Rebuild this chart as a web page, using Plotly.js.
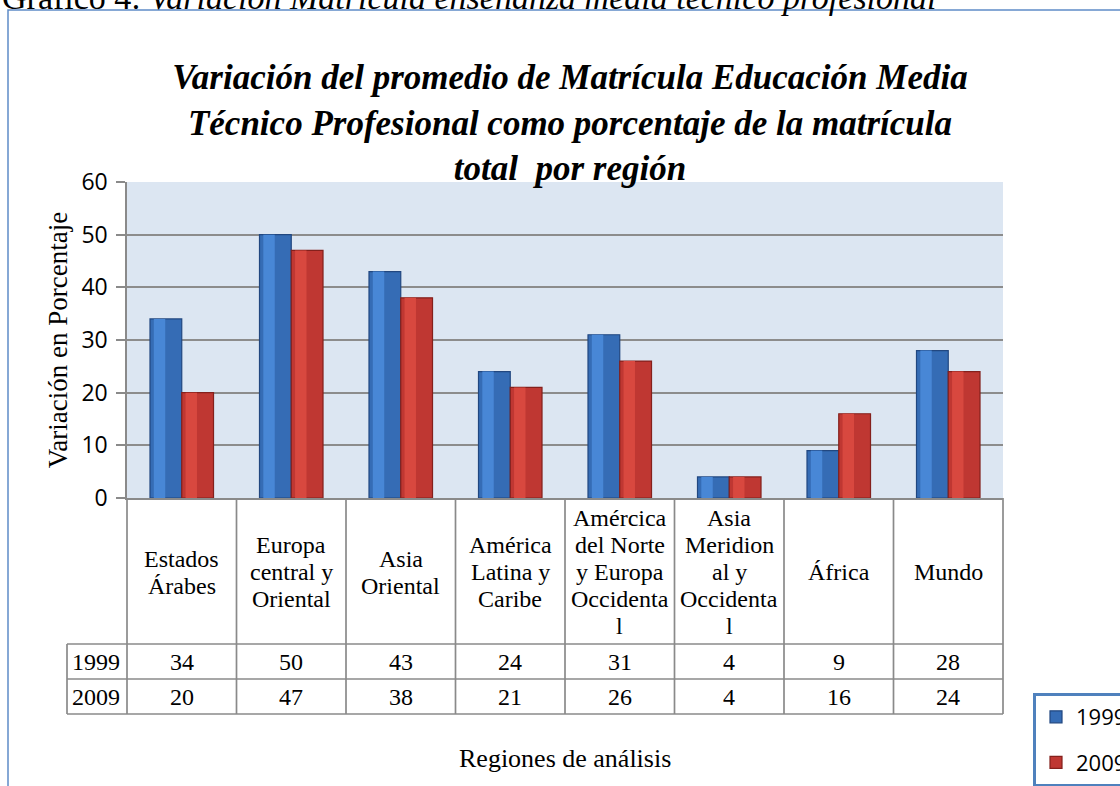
<!DOCTYPE html>
<html><head><meta charset="utf-8">
<script src="https://cdn.plot.ly/plotly-3.0.1.min.js"></script>
<style>html,body{margin:0;padding:0;background:#fff;overflow:hidden}#chart{width:1120px;height:786px}</style>
</head><body><div id="chart"></div>
<script>
// ---- data ----
const categories = ["Estados<br>Árabes", "Europa<br>central y<br>Oriental", "Asia<br>Oriental",
  "América<br>Latina y<br>Caribe", "Amércica<br>del Norte<br>y Europa<br>Occidenta<br>l",
  "Asia<br>Meridion<br>al y<br>Occidenta<br>l", "África", "Mundo"];
const seriesNames = ["1999", "2009"];
const values1999 = [34, 50, 43, 24, 31, 4, 9, 28];
const values2009 = [20, 47, 38, 21, 26, 4, 16, 24];
const yTickVals = [0, 10, 20, 30, 40, 50, 60];

// ---- layout helpers (pixel -> paper) ----
const L = 127, R = 1003, T = 182, B = 498;
const px = x => (x - L) / (R - L);
const py = y => (B - y) / (B - T);
const idx = categories.map((_, i) => i);
const BW = 0.29;

const serif = "Liberation Serif, Times New Roman, serif";
const sans = "Open Sans, Lato, sans-serif";

function barPair(vals, name, base, hl, edge, offset) {
  return [
    {type: "bar", x: idx, y: vals, name: name, legendgroup: name, offset: offset, width: BW,
     marker: {color: base, line: {color: edge, width: 1.2}}, opacity: 1, hoverinfo: "y+name"},
    {type: "bar", x: idx, y: vals, name: name, legendgroup: name, showlegend: false,
     offset: offset + BW * 0.12, width: BW * 0.36,
     marker: {color: hl, line: {width: 0}}, opacity: 1, hoverinfo: "skip"}
  ];
}

const data = [
  ...barPair(values1999, seriesNames[0], "#356cb5", "#4887d6", "#214780", -BW),
  ...barPair(values2009, seriesNames[1], "#bf3732", "#d8483f", "#84201c", 0)
];

// ---- table shapes ----
const lineStyle = {color: "#8a8a8a", width: 1.7};
const shapes = [];
const yHead = py(644), yRow = py(679), yEnd = py(714);
[yHead, yRow, yEnd].forEach(y => shapes.push({type: "line", xref: "paper", yref: "paper",
  x0: px(67), x1: 1, y0: y, y1: y, line: lineStyle}));
shapes.push({type: "line", xref: "paper", yref: "paper", x0: px(67), x1: px(67), y0: yHead, y1: yEnd, line: lineStyle});
shapes.push({type: "line", xref: "paper", yref: "paper", x0: 0, x1: 0, y0: 0, y1: yEnd, line: lineStyle});
shapes.push({type: "line", xref: "paper", yref: "paper", x0: 1, x1: 1, y0: 0, y1: yEnd, line: lineStyle});
idx.slice(0, -1).forEach(i => shapes.push({type: "line", xref: "x", yref: "paper",
  x0: i + 0.5, x1: i + 0.5, y0: 0, y1: yEnd, line: lineStyle}));
// outer frame of the chart object
shapes.push({type: "rect", xref: "paper", yref: "paper", x0: px(8), x1: px(1140), y0: py(10), y1: py(820),
  line: {color: "#5f8cc8", width: 1.5}, fillcolor: "rgba(0,0,0,0)"});

// ---- annotations ----
const annotations = [];
const LINE_H = 27;
idx.forEach(i => {
  const lines = categories[i].split("<br>");
  lines.forEach((t, k) => {
    annotations.push({x: i, xref: "x", xanchor: "center", y: py(572 + (k - (lines.length - 1) / 2) * LINE_H),
      yref: "paper", yanchor: "middle", text: t, showarrow: false,
      font: {family: serif, size: 24, color: "#000"}});
  });
  annotations.push({x: i, xref: "x", xanchor: "center", y: py(661.5), yref: "paper", text: String(values1999[i]), showarrow: false,
    font: {family: serif, size: 24, color: "#000"}, yanchor: "middle"});
  annotations.push({x: i, xref: "x", xanchor: "center", y: py(696.5), yref: "paper", text: String(values2009[i]), showarrow: false,
    font: {family: serif, size: 24, color: "#000"}, yanchor: "middle"});
});
annotations.push({x: px(96), xref: "paper", xanchor: "center", y: py(661.5), yref: "paper", text: seriesNames[0], showarrow: false,
  font: {family: serif, size: 24, color: "#000"}, yanchor: "middle"});
annotations.push({x: px(96), xref: "paper", xanchor: "center", y: py(696.5), yref: "paper", text: seriesNames[1], showarrow: false,
  font: {family: serif, size: 24, color: "#000"}, yanchor: "middle"});
annotations.push({x: px(565), xref: "paper", xanchor: "center", y: py(758), yref: "paper", text: "Regiones de análisis", showarrow: false,
  font: {family: serif, size: 26, color: "#000"}, yanchor: "middle"});
annotations.push({x: px(0), xref: "paper", xanchor: "left", y: py(-3), yref: "paper", yanchor: "middle",
  text: "Gráfico 4: <i>Variación Matrícula enseñanza media técnico profesional</i>", showarrow: false,
  font: {family: serif, size: 34, color: "#000"}});

const layout = {
  width: 1120, height: 786,
  margin: {l: L, r: 1120 - R, t: T, b: 786 - B, autoexpand: false},
  paper_bgcolor: "#ffffff", plot_bgcolor: "#dce6f2",
  barmode: "overlay",
  title: {text: "<b><i>Variación del promedio de Matrícula Educación Media<br>Técnico Profesional como porcentaje de la matrícula<br>total  por región</i></b>",
    x: 570 / 1120, xref: "container", xanchor: "center", y: 1 - 89 / 786, yref: "container", yanchor: "top",
    font: {family: serif, size: 35, color: "#000"}},
  xaxis: {range: [-0.5, 7.5], showticklabels: false, showgrid: false, zeroline: false,
    showline: true, linecolor: "#8a8a8a", linewidth: 1.7, ticks: "", fixedrange: true},
  yaxis: {range: [0, 60], tickvals: yTickVals, showgrid: true, gridcolor: "#8c8c8c", gridwidth: 1.8,
    zeroline: false, showline: true, linecolor: "#8a8a8a", linewidth: 1.7,
    ticks: "outside", ticklen: 9, tickcolor: "#8a8a8a", tickwidth: 1.7, ticklabelstandoff: 4,
    tickfont: {family: sans, size: 23, color: "#000"},
    title: {text: "Variación en Porcentaje", font: {family: serif, size: 27, color: "#000"}, standoff: 6}},
  legend: {x: px(1033), xanchor: "left", y: py(693), yanchor: "top", bgcolor: "#ffffff",
    bordercolor: "#4f81bd", borderwidth: 3, traceorder: "grouped", tracegroupgap: 14,
    font: {family: sans, size: 22, color: "#000"}},
  shapes: shapes,
  annotations: annotations,
  showlegend: true
};

Plotly.newPlot("chart", data, layout, {displayModeBar: false, staticPlot: true});
</script>
</body></html>
